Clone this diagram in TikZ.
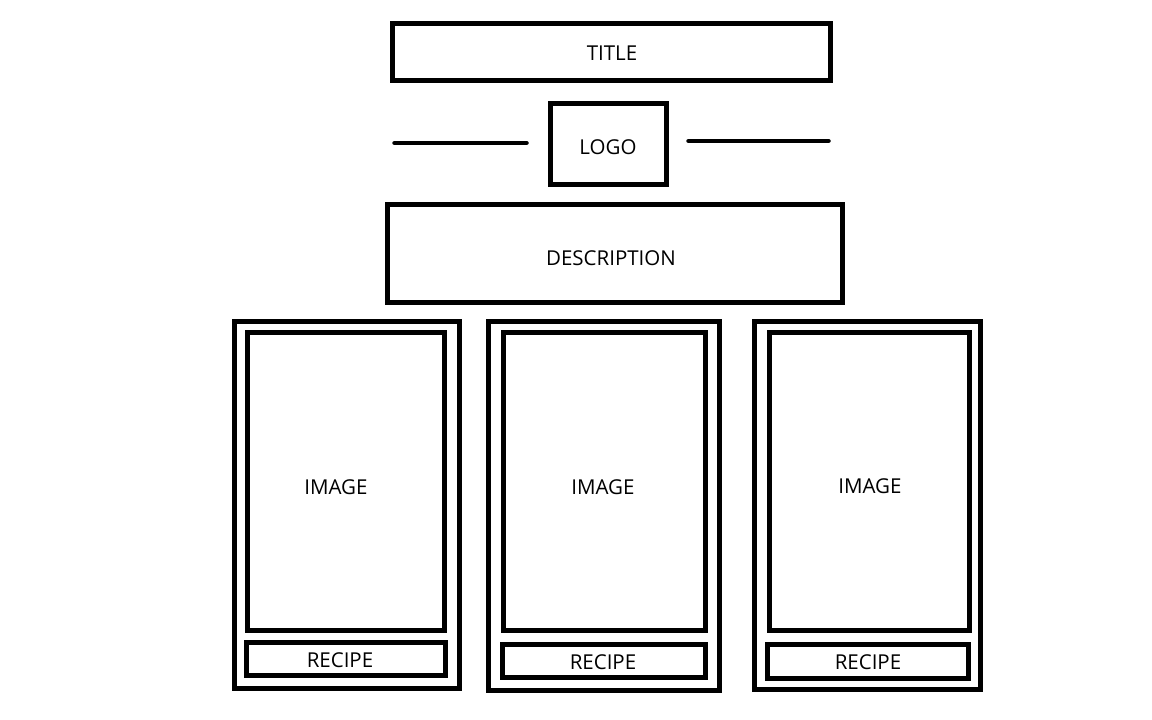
\documentclass[tikz,border=0pt]{standalone}
\usepackage{fontspec}
\setmainfont{Open Sans}
\begin{document}
\begin{tikzpicture}[x=1pt,y=-1pt,
  frame/.style={draw=black,line width=5pt,rectangle,inner sep=0pt,outer sep=0pt},
  lbl/.style={inner sep=0pt,outer sep=0pt,font=\fontsize{20.5}{23}\selectfont},
  rule/.style={line width=4.5pt,line cap=round}]
\useasboundingbox[fill=white] (0,0) rectangle (1152,720);

% header
\node[frame,minimum width=438pt,minimum height=57pt] (title) at (611.5,52) {};
\node[lbl] (titletext) at (612,53) {TITLE};
\node[frame,minimum width=116pt,minimum height=81pt] (logo) at (608.5,144) {};
\node[lbl] (logotext) at (608,147) {LOGO};
\coordinate (la) at (394.5,143);
\coordinate (lb) at (526.5,143);
\coordinate (ra) at (688.5,141);
\coordinate (rb) at (828.5,141);
\draw[rule] (la) -- (lb);
\draw[rule] (ra) -- (rb);
\node[frame,minimum width=455pt,minimum height=98pt] (desc) at (615,253.5) {};
\node[lbl] (desctext) at (611,258) {DESCRIPTION};

% card 1
\node[frame,minimum width=225pt,minimum height=367pt] (card1) at (347,505) {};
\node[frame,minimum width=197pt,minimum height=298pt] (img1) at (346,481.5) {};
\node[frame,minimum width=199pt,minimum height=33pt] (rec1) at (346,659) {};
\node[lbl] (img1text) at (336,487) {IMAGE};
\node[lbl] (rec1text) at (340,660) {RECIPE};

% card 2
\node[frame,minimum width=231pt,minimum height=369pt] (card2) at (604,506) {};
\node[frame,minimum width=202pt,minimum height=298pt] (img2) at (604.5,481.5) {};
\node[frame,minimum width=203pt,minimum height=33pt] (rec2) at (604,661) {};
\node[lbl] (img2text) at (603,487) {IMAGE};
\node[lbl] (rec2text) at (603,662) {RECIPE};

% card 3
\node[frame,minimum width=226pt,minimum height=368pt] (card3) at (867.5,505.5) {};
\node[frame,minimum width=200pt,minimum height=298pt] (img3) at (869.5,481.5) {};
\node[frame,minimum width=201pt,minimum height=34pt] (rec3) at (868,661.5) {};
\node[lbl] (img3text) at (870,486) {IMAGE};
\node[lbl] (rec3text) at (868,662) {RECIPE};
\end{tikzpicture}
\end{document}
